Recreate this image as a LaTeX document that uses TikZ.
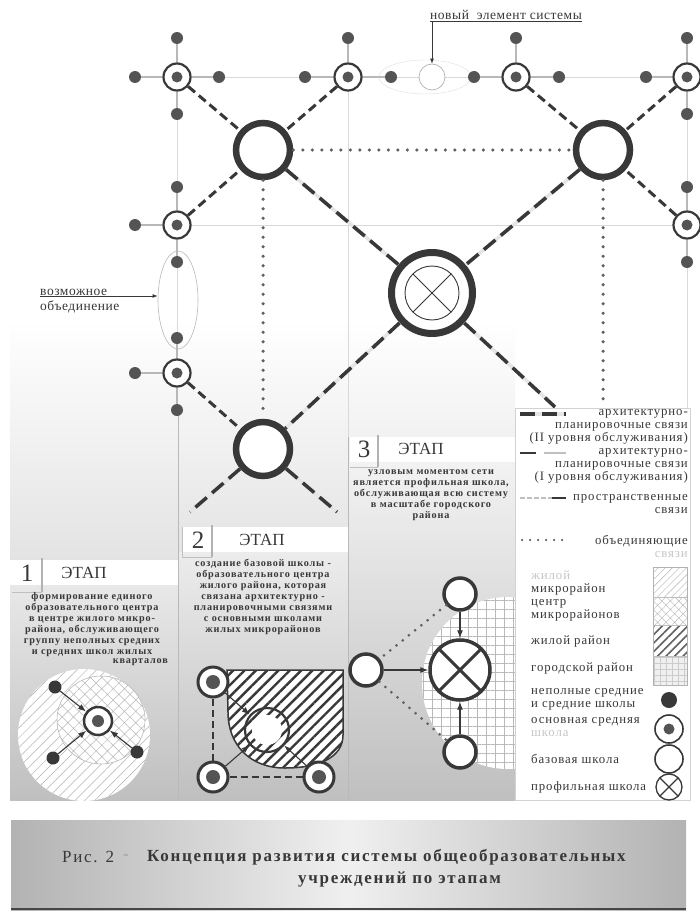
\documentclass[tikz,border=0pt]{standalone}
\usepackage{fontspec}
\setmainfont{Liberation Serif}
\newfontfamily\lgfont[LetterSpace=7]{Liberation Serif}
\newfontfamily\ntfont[LetterSpace=4]{Liberation Serif}
\newfontfamily\stfont[LetterSpace=8]{Liberation Serif}
\newfontfamily\capfont[LetterSpace=10]{Liberation Serif}
\usetikzlibrary{arrows.meta, positioning, shapes.geometric, patterns.meta}

\definecolor{ink}{gray}{0.22}
\definecolor{dotc}{gray}{0.33}
\definecolor{gridc}{gray}{0.72}

\tikzset{
  sdot/.style={circle, fill=dotc, inner sep=0pt, minimum size=12pt},
  osn/.style={circle, draw=ink, line width=2.2pt, fill=white, inner sep=0pt, minimum size=27pt,
    path picture={\fill[dotc] (path picture bounding box.center) circle (#1);}},
  osn/.default=5.5pt,
  baz/.style={circle, draw=ink, line width=6.5pt, fill=white, inner sep=0pt, minimum size=54pt},
  bzs/.style={circle, draw=ink, line width=3.5pt, fill=white, inner sep=0pt, minimum size=32pt},
  prof/.style={circle, draw=ink, line width=7pt, fill=white, inner sep=0pt, minimum size=81pt,
    path picture={\draw[ink, line width=0.9pt] (path picture bounding box.center) circle (27pt)
      ++(-19pt,-19pt) -- ++(38pt,38pt) ++(0pt,-38pt) -- ++(-38pt,38pt);}},
  xcirc/.style={circle, draw=ink, fill=white, inner sep=0pt,
    path picture={\draw[ink, line width=#1]
      (path picture bounding box.south west) -- (path picture bounding box.north east)
      (path picture bounding box.north west) -- (path picture bounding box.south east);}},
  arm/.style={draw=gridc, line width=1.3pt},
  gridl/.style={draw=gray!30, line width=0.6pt},
  lk1/.style={draw=ink, line width=3pt, dash pattern=on 9pt off 5pt},
  lk2/.style={draw=gray!20, line width=3.5pt, postaction={draw=ink, line width=3.5pt, dash pattern=on 15pt off 7pt}},
  dotl/.style={draw=ink!80, line width=3.5pt, line cap=round, dash pattern=on 0pt off 9.5pt},
  sdash/.style={draw=ink, line width=2pt, dash pattern=on 7pt off 4pt},
  arr/.style={-Latex, draw=ink, line width=1.1pt},
  lgt/.style={font=\lgfont\fontsize{12.8}{13}\selectfont, inner sep=0pt, text=ink},
  stt/.style={font=\stfont\fontsize{10.2}{11}\selectfont\bfseries, inner sep=0pt, align=center, text=ink},
  etap/.style={font=\fontsize{17}{17}\selectfont, inner sep=0pt, text=ink},
  num/.style={font=\fontsize{25}{25}\selectfont, inner sep=0pt, text=ink},
  note/.style={font=\ntfont\fontsize{13.5}{14}\selectfont, inner sep=0pt, text=ink},
  capt/.style={font=\capfont\fontsize{17}{20}\selectfont\bfseries, inner sep=0pt, text=ink}
}

\begin{document}
\begin{tikzpicture}[x=1pt, y=-1pt]
  \useasboundingbox (0,0) rectangle (699,915);
  \fill[white] (0,0) rectangle (699,915);

  % background of the stages
  \shade[top color=white, bottom color=gray!22] (10,320) rectangle (515,560);
  \shade[top color=gray!18, bottom color=gray!50] (10,585) rectangle (178,800);
  \shade[top color=gray!15, bottom color=gray!50] (178,552) rectangle (348,800);
  \shade[top color=gray!10, bottom color=gray!50] (348,462) rectangle (515,800);
  \draw[gray!55, line width=0.8pt] (178,410) -- (178,800);
  \draw[gray!55, line width=0.8pt] (348,437) -- (348,800);

  % grid
  \draw[gridl] (135,77) -- (699,77);
  \draw[gridl] (135,225) -- (699,225);
  \draw[gridl] (177,38) -- (177,410);
  \draw[gridl] (348,38) -- (348,437);
  \draw[gridl] (687,38) -- (687,410);
  \draw[gray!25] (425,77) ellipse (46pt and 17pt);

  % schools
  \node[osn] (t1) at (177,77) {};
  \node[sdot] (t1u) at (177,38) {};
  \node[sdot] (t1l) at (135,77) {};
  \node[sdot] (t1r) at (219,77) {};
  \node[sdot] (t1d) at (177,114) {};
  \node[osn] (t2) at (348,77) {};
  \node[sdot] (t2u) at (348,38) {};
  \node[sdot] (t2l) at (305,77) {};
  \node[sdot] (t2r) at (391,77) {};
  \node[osn] (t3) at (516,77) {};
  \node[sdot] (t3u) at (516,38) {};
  \node[sdot] (t3l) at (474,77) {};
  \node[sdot] (t3r) at (559,77) {};
  \node[osn] (t4) at (687,77) {};
  \node[sdot] (t4u) at (687,38) {};
  \node[sdot] (t4l) at (646,77) {};
  \node[sdot] (t4d) at (687,114) {};
  \node[osn] (l1) at (177,225) {};
  \node[sdot] (l1u) at (177,187) {};
  \node[sdot] (l1l) at (135,225) {};
  \node[sdot] (l1d) at (177,262) {};
  \node[osn] (r1) at (687,225) {};
  \node[sdot] (r1u) at (687,187) {};
  \node[sdot] (r1d) at (687,262) {};
  \node[osn] (l2) at (177,373) {};
  \node[sdot] (l2u) at (177,338) {};
  \node[sdot] (l2l) at (135,373) {};
  \node[sdot] (l2d) at (177,410) {};

  \draw[arm] (t1) -- (t1u); \draw[arm] (t1) -- (t1l); \draw[arm] (t1) -- (t1r); \draw[arm] (t1) -- (t1d);
  \draw[arm] (t2) -- (t2u); \draw[arm] (t2) -- (t2l); \draw[arm] (t2) -- (t2r);
  \draw[arm] (t3) -- (t3u); \draw[arm] (t3) -- (t3l); \draw[arm] (t3) -- (t3r);
  \draw[arm] (t4) -- (t4u); \draw[arm] (t4) -- (t4l); \draw[arm] (t4) -- (t4d);
  \draw[arm] (l1) -- (l1u); \draw[arm] (l1) -- (l1l); \draw[arm] (l1) -- (l1d);
  \draw[arm] (r1) -- (r1u); \draw[arm] (r1) -- (r1d);
  \draw[arm] (l2) -- (l2u); \draw[arm] (l2) -- (l2l); \draw[arm] (l2) -- (l2d);

  \node[baz] (b1) at (263,150) {};
  \node[baz] (b2) at (603,150) {};
  \node[baz] (b3) at (263,449) {};
  \node[prof] (pc) at (432,293) {};

  \coordinate (b1end) at (263,413);
  \coordinate (b2end) at (603,405);
  \coordinate (pcend) at (555,407);
  \coordinate (b3a) at (190,512);
  \coordinate (b3b) at (337,512);

  \draw[dotl] (b1) -- (b2);
  \draw[dotl] (b1) -- (b1end);
  \draw[dotl] (b2) -- (b2end);

  \draw[lk1] (t1) -- (b1); \draw[lk1] (t2) -- (b1); \draw[lk1] (l1) -- (b1);
  \draw[lk1] (t3) -- (b2); \draw[lk1] (t4) -- (b2); \draw[lk1] (r1) -- (b2);
  \draw[lk1] (l2) -- (b3);

  \draw[lk2] (b1) -- (pc); \draw[lk2] (b2) -- (pc); \draw[lk2] (pc) -- (b3);
  \draw[lk2] (pc) -- (pcend);
  \draw[lk2] (b3) -- (b3a); \draw[lk2] (b3) -- (b3b);

  % new element, possible union
  \node[circle, draw=gray!60, fill=white, line width=0.7pt, minimum size=26pt, inner sep=0pt] (newel) at (432,77) {};
  \node[note, anchor=south west] (newtxt) at (430,22) {\underline{новый\ \ элемент системы}};
  \draw[-{Latex[length=5pt]}, ink, line width=0.6pt] (newtxt.south west -| newel) -- (newel.north);

  \node[ellipse, draw=gray!55, line width=0.6pt, minimum width=40pt, minimum height=98pt, inner sep=0pt] (unite) at (178,300) {};
  \node[note, anchor=south west] (vz1) at (40,296) {возможное};
  \node[note, anchor=north west] (vz2) at (40,301) {объединение};
  \draw[-{Latex[length=5pt]}, ink, line width=0.6pt] (vz1.south west) -- (vz1.south west -| unite.west);

  % stage 1
  \fill[white] (10,560) rectangle (178,585);
  \node[num] (n1) at (27,573) {1};
  \draw[gray!60, line width=1.2pt] (42,558) -- (42,592);
  \draw[gray!50, line width=0.8pt] (12,592) -- (42,592);
  \node[etap] (e1) at (84,573) {ЭТАП};
  \node[stt, anchor=north] (tx1) at (92,592) {формирование единого\\образовательного центра\\в центре жилого микро-\\района, обслуживающего\\группу неполных средних\\и средних школ жилых};
  \node[stt, anchor=north east] (tx1b) at (168,658) {кварталов};

  \begin{scope}
    \clip (10,585) rectangle (178,800);
    \fill[white] (84,735) circle (66pt);
    \fill[pattern color=gray!60, pattern={Lines[angle=45, distance=7pt, line width=0.5pt]}] (84,735) circle (66pt);
    \fill[white] (101,720) circle (44pt);
    \fill[pattern color=gray!55, pattern={Hatch[angle=45, distance=8pt, line width=0.5pt]}] (101,720) circle (44pt);
    \draw[gray!55, line width=0.6pt] (101,720) circle (44pt);
  \end{scope}
  \node[osn=6pt, minimum size=28pt, line width=2.5pt] (c1) at (98,721) {};
  \node[sdot, fill=ink, minimum size=13pt] (d11) at (55,687) {};
  \node[sdot, fill=ink, minimum size=13pt] (d12) at (53,758) {};
  \node[sdot, fill=ink, minimum size=13pt] (d13) at (137,752) {};
  \draw[arr] (d11) -- (c1);
  \draw[arr] (d12) -- (c1);
  \draw[arr] (d13) -- (c1);

  % stage 2
  \fill[white] (182,527) rectangle (348,552);
  \node[num] (n2) at (198,540) {2};
  \draw[gray!60, line width=1.2pt] (212,525) -- (212,557);
  \draw[gray!50, line width=0.8pt] (182,527) -- (182,557) -- (212,557);
  \node[etap] (e2) at (262,540) {ЭТАП};
  \node[stt, anchor=north] (tx2) at (263,559) {создание базовой школы -\\образовательного центра\\жилого района, которая\\связана архитектурно -\\планировочными связями\\с основными школами\\жилых микрорайонов};

  \draw[ink, line width=1.5pt, fill=white, postaction={pattern color=ink, pattern={Lines[angle=45, distance=8pt, line width=2.4pt]}}]
    (227,670) -- (343,670) -- (343,735) .. controls (343,758) and (318,768) .. (285,768)
    .. controls (250,768) and (228,745) .. (228,712) -- cycle;
  \node[circle, draw=ink, line width=2.2pt, minimum size=44pt, inner sep=0pt] (c2) at (267,730) {};
  \node[circle, fill=white, minimum size=30pt, inner sep=0pt] (c2in) at (267,730) {};
  \node[osn=7pt, minimum size=30pt, line width=3pt] (s2a) at (213,682) {};
  \node[osn=7pt, minimum size=30pt, line width=3pt] (s2b) at (213,777) {};
  \node[osn=7pt, minimum size=30pt, line width=3pt] (s2c) at (319,777) {};
  \draw[sdash] (s2a) -- (s2b);
  \draw[sdash] (s2b) -- (s2c);
  \draw[arr] (s2a) -- (c2);
  \draw[arr] (s2b) -- (c2);
  \draw[arr] (s2c) -- (c2);

  % stage 3
  \fill[white] (350,437) rectangle (515,462);
  \node[num] (n3) at (364,449) {3};
  \draw[gray!60, line width=1.2pt] (378,435) -- (378,467);
  \draw[gray!50, line width=0.8pt] (350,467) -- (378,467);
  \node[etap] (e3) at (421,449) {ЭТАП};
  \node[stt, anchor=north] (tx3) at (431,469) {узловым моментом сети\\является профильная школа,\\обслуживающая всю систему\\в масштабе городского\\района};

  \begin{scope}
    \clip (348,462) rectangle (515,800);
    \fill[white] (508,683) circle (86pt);
    \fill[pattern color=gray!55, pattern={Hatch[angle=0, distance=9pt, line width=0.45pt]}] (508,683) circle (86pt);
  \end{scope}
  \node[xcirc=3pt, line width=3.5pt, minimum size=60pt] (x3) at (460,670) {};
  \node[bzs] (s3t) at (460,594) {};
  \node[bzs] (s3l) at (366,670) {};
  \node[bzs] (s3b) at (460,752) {};
  \draw[arr] (s3t) -- (x3);
  \draw[arr] (s3l) -- (x3);
  \draw[arr] (s3b) -- (x3);
  \draw[dotl, line width=3pt, dash pattern=on 0pt off 8pt] (s3t) -- (s3l);
  \draw[dotl, line width=3pt, dash pattern=on 0pt off 8pt] (s3l) -- (s3b);

  % legend
  \draw[gray!35, fill=white] (515,408) rectangle (690,800);
  \draw[lk2] (520,414) -- (566,414);
  \draw[ink, line width=2.5pt] (520,453) -- (536,453);
  \draw[gray!50, line width=2.5pt] (544,453) -- (566,453);
  \draw[gray!50, line width=2.5pt, dash pattern=on 5pt off 2pt] (520,498) -- (552,498);
  \draw[ink, line width=1.5pt] (552,498) -- (566,498);
  \draw[dotl, line width=2.5pt, dash pattern=on 0pt off 8pt] (522,540) -- (566,540);

  \node[lgt, anchor=east, align=right] (lgA) at (688,427) {архитектурно-\\планировочные связи\\(II уровня обслуживания)};
  \node[lgt, anchor=east, align=right] (lgB) at (688,466) {архитектурно-\\планировочные связи\\(I уровня обслуживания)};
  \node[lgt, anchor=east, align=right] (lgC) at (688,504) {пространственные\\связи};
  \node[lgt, anchor=east, align=right] (lgD) at (688,546) {объединяющие\\{\color{gray!45}связи}};
  \node[lgt, anchor=west, align=left] (lgE) at (531,583) {{\color{gray!45}жилой}\\микрорайон};
  \node[lgt, anchor=west, align=left] (lgF) at (531,610) {центр\\микрорайонов};
  \node[lgt, anchor=west] (lgG) at (531,641) {жилой район};
  \node[lgt, anchor=west] (lgH) at (531,668) {городской район};
  \node[lgt, anchor=west, align=left] (lgI) at (531,699) {неполные средние\\и средние школы};
  \node[lgt, anchor=west, align=left] (lgJ) at (531,727) {основная средняя\\{\color{gray!45}школа}};
  \node[lgt, anchor=west] (lgK) at (531,759) {базовая школа};
  \node[lgt, anchor=west] (lgL) at (531,787) {профильная школа};

  \fill[white] (653,567) rectangle (687,685);
  \fill[pattern color=gray!60, pattern={Lines[angle=45, distance=5pt, line width=0.4pt]}] (653,567) rectangle (687,597);
  \fill[pattern color=gray!60, pattern={Hatch[angle=45, distance=6pt, line width=0.4pt]}] (653,597) rectangle (687,625);
  \fill[pattern color=ink!80, pattern={Lines[angle=45, distance=6pt, line width=1.6pt]}] (653,625) rectangle (687,656);
  \fill[gray!12] (653,656) rectangle (687,685);
  \fill[pattern color=gray!40, pattern={Hatch[angle=0, distance=6pt, line width=0.3pt]}] (653,656) rectangle (687,685);
  \draw[gray!60, line width=0.8pt] (653,567) rectangle (687,685);
  \draw[gray!50] (653,597) -- (687,597);
  \draw[gray!50] (653,625) -- (687,625);
  \draw[gray!50] (653,656) -- (687,656);

  \node[sdot, fill=ink, minimum size=16pt] (ks1) at (669,700) {};
  \node[osn=5.5pt, minimum size=28pt, line width=1.6pt] (ks2) at (669,729) {};
  \node[circle, draw=ink, line width=1.6pt, minimum size=28pt, inner sep=0pt] (ks3) at (669,759) {};
  \node[xcirc=1.3pt, line width=1.3pt, minimum size=26pt] (ks4) at (669,787) {};

  % caption
  \shade[left color=gray!60, right color=gray!60, middle color=gray!12] (11,820) rectangle (686,910);
  \draw[gray!55!black, line width=2pt] (11,909) -- (686,909);
  \node[capt, font=\capfont\fontsize{17}{20}\selectfont, anchor=west] (capA) at (62,857) {Рис. 2};
  \node[capt, text=gray!70, anchor=center] (capD) at (126,857) {-};
  \node[capt, anchor=west] (capB) at (147,857) {Концепция развития системы общеобразовательных};
  \node[capt, anchor=west] (capC) at (298,879) {учреждений по этапам};
\end{tikzpicture}
\end{document}
